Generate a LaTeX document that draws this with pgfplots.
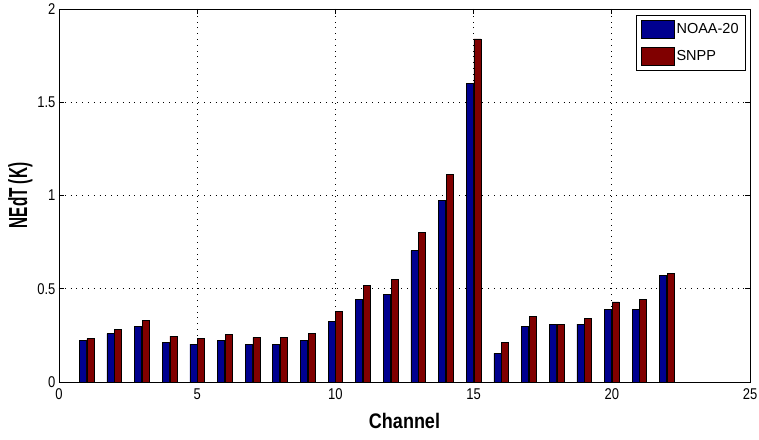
\documentclass[border=0pt]{standalone}
\usepackage{fontspec}
\setmainfont{Liberation Sans}
\usepackage{graphicx}
\usepackage{pgfplots}
\pgfplotsset{compat=1.18}
\definecolor{noaablue}{rgb}{0,0,0.5625}
\definecolor{snppred}{rgb}{0.5,0,0}

\begin{document}
\begin{tikzpicture}
\begin{axis}[
  name=ax,
  scale only axis,
  width=691pt, height=373pt,
  xmin=0, xmax=25, ymin=0, ymax=2,
  xtick={0,5,10,15,20,25},
  ytick={0,0.5,1,1.5,2},
  /pgf/number format/assume math mode=true,
  tick label style={font=\fontsize{13}{15}\selectfont, yscale=1.2},
  xticklabel style={yshift=-2pt},
  xlabel={\scalebox{1}[1.17]{Channel}},
  ylabel={\scalebox{0.85}[1.45]{NEdT (K)}},
  label style={font=\fontsize{18}{20}\selectfont\bfseries},
  xlabel style={yshift=-6pt},
  ylabel style={yshift=-2pt},
  tick align=inside,
  major tick length=5pt,
  xtick pos=both, ytick pos=both,
  grid=major,
  major grid style={black, line width=0.7pt, dash pattern=on 0.8pt off 5pt},
  axis line style={black, line width=0.8pt},
  every tick/.style={black, line width=0.8pt},
  legend style={
    at={(0.9942,0.984)}, anchor=north east,
    font=\fontsize{14.5}{16}\selectfont,
    draw=black, line width=0.8pt,
    inner xsep=5pt, inner ysep=5pt,
    row sep=8pt,
    nodes={inner xsep=2pt, inner ysep=0pt},
  },
  legend cell align=left,
  legend image code/.code={\draw[#1] (0pt,-9pt) rectangle (33pt,9pt);},
]
% NOAA-20 noise per channel
\addplot[ybar, bar width=7pt, bar shift=-3.85pt, fill=noaablue, draw=black, line width=0.6pt]
  coordinates {
  (1,0.225) (2,0.260) (3,0.297) (4,0.211) (5,0.203) (6,0.225) (7,0.203) (8,0.203)
  (9,0.224) (10,0.324) (11,0.442) (12,0.470) (13,0.705) (14,0.972) (15,1.600)
  (16,0.154) (17,0.297) (18,0.310) (19,0.310) (20,0.389) (21,0.389) (22,0.573)
  };
\addlegendentry{NOAA-20}
% SNPP noise per channel
\addplot[ybar, bar width=7pt, bar shift=3.85pt, fill=snppred, draw=black, line width=0.6pt]
  coordinates {
  (1,0.232) (2,0.282) (3,0.332) (4,0.246) (5,0.232) (6,0.254) (7,0.239) (8,0.239)
  (9,0.260) (10,0.378) (11,0.520) (12,0.548) (13,0.802) (14,1.113) (15,1.840)
  (16,0.212) (17,0.353) (18,0.310) (19,0.339) (20,0.430) (21,0.444) (22,0.583)
  };
\addlegendentry{SNPP}
\end{axis}
\pgfresetboundingbox
\path ([xshift=-59pt,yshift=-57pt]ax.south west) rectangle ([xshift=9pt,yshift=9pt]ax.north east);
\end{tikzpicture}
\end{document}
